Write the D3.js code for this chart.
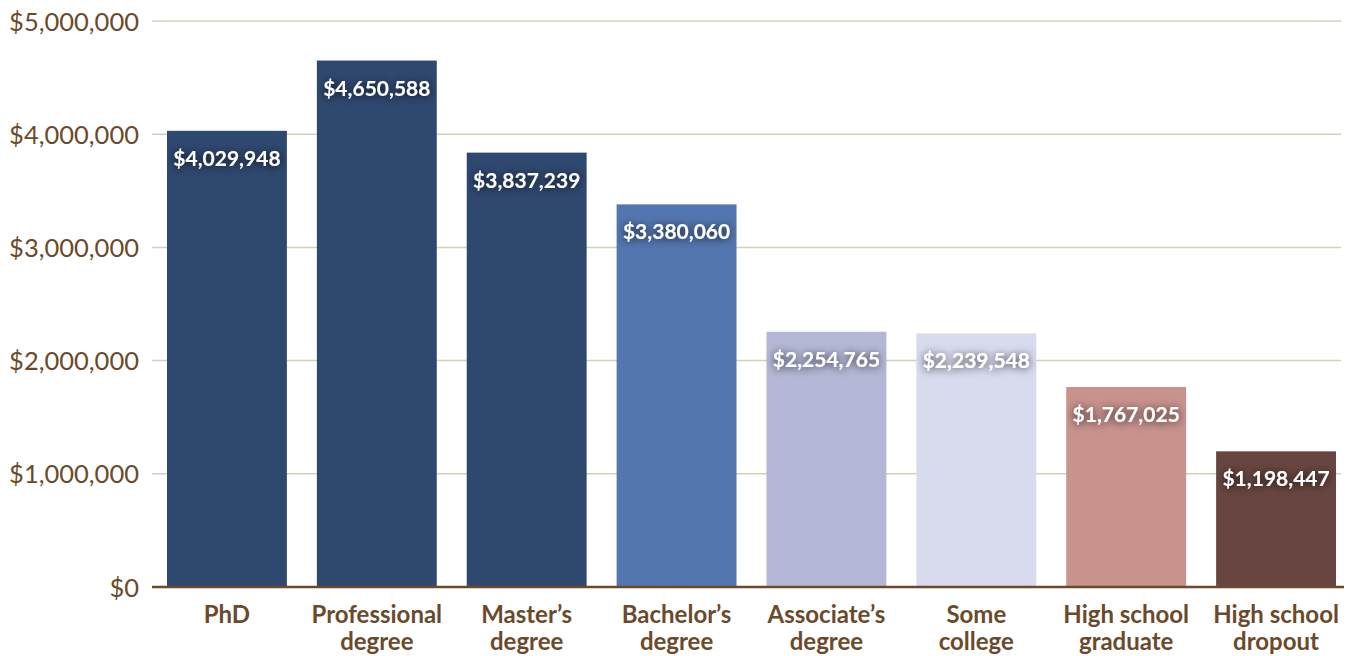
<!DOCTYPE html>
<html>
<head>
<meta charset="utf-8">
<script src="https://cdn.jsdelivr.net/npm/d3@7"></script>
<style>
  body { margin: 0; background: #fff; }
  svg { display: block; }
  .tick text { font-family: Lato, sans-serif; }
</style>
</head>
<body>
<script>
const categories = [["PhD"], ["Professional", "degree"], ["Master\u2019s", "degree"], ["Bachelor\u2019s", "degree"],
                    ["Associate\u2019s", "degree"], ["Some", "college"], ["High school", "graduate"], ["High school", "dropout"]];
const earnings = [4029948, 4650588, 3837239, 3380060, 2254765, 2239548, 1767025, 1198447];
const barColors = ["#2f4870", "#2f4870", "#2f4870", "#5476b0", "#b4b8d6", "#d8dbee", "#c8928d", "#684540"];
const yTicks = [0, 1000000, 2000000, 3000000, 4000000, 5000000];

const W = 1353, H = 656;
const margin = {top: 21, right: 2, bottom: 69, left: 152};
const width = W - margin.left - margin.right,
      height = H - margin.top - margin.bottom;

const svg = d3.select("body").append("svg").attr("width", W).attr("height", H);

const defs = svg.append("defs");
const f = defs.append("filter").attr("id", "glow").attr("x", "-20%").attr("y", "-60%").attr("width", "140%").attr("height", "220%");
f.append("feDropShadow").attr("dx", 0).attr("dy", 1).attr("stdDeviation", 4)
  .attr("flood-color", "#000").attr("flood-opacity", 0.8);

const g = svg.append("g").attr("transform", "translate(" + margin.left + "," + margin.top + ")");

const x = d3.scaleBand()
  .domain(d3.range(categories.length))
  .range([0, width])
  .paddingInner(0.2)
  .paddingOuter(0.1);

const y = d3.scaleLinear()
  .domain([0, 5000000])
  .range([height, 0]);

const fmt = d3.format("$,");

// gridlines
g.append("g")
  .selectAll("line")
  .data(yTicks.slice(1))
  .enter().append("line")
    .attr("x1", 0).attr("x2", width - 10)
    .attr("y1", d => y(d)).attr("y2", d => y(d))
    .attr("stroke", "#d3d0b9").attr("stroke-width", 1.5);

// y axis (labels only)
const yAxis = d3.axisLeft(y).tickValues(yTicks).tickFormat(fmt).tickSize(0).tickPadding(13);
const ya = g.append("g").call(yAxis);
ya.select(".domain").remove();
ya.selectAll("text").attr("fill", "#6b4a2c").style("font-size", "25.5px").attr("dy", "0.36em");

// bars
g.selectAll("rect.bar")
  .data(earnings)
  .enter().append("rect")
    .attr("class", "bar")
    .attr("x", (d, i) => x(i))
    .attr("width", x.bandwidth())
    .attr("y", d => y(d))
    .attr("height", d => height - y(d))
    .attr("fill", (d, i) => barColors[i]);

// baseline
g.append("line")
  .attr("x1", 0).attr("x2", width - 7)
  .attr("y1", height).attr("y2", height)
  .attr("stroke", "#6b4a2c").attr("stroke-width", 2.5);

// value labels
g.selectAll("text.val")
  .data(earnings)
  .enter().append("text")
    .attr("class", "val")
    .attr("x", (d, i) => x(i) + x.bandwidth() / 2)
    .attr("y", d => y(d) + 35)
    .attr("text-anchor", "middle")
    .attr("fill", "#fff")
    .attr("filter", "url(#glow)")
    .style("font-family", "Lato, sans-serif")
    .style("font-weight", "bold")
    .style("font-size", "21px")
    .text(d => fmt(d));

// category labels
const cat = g.selectAll("text.cat")
  .data(categories)
  .enter().append("text")
    .attr("class", "cat")
    .attr("x", (d, i) => x(i) + x.bandwidth() / 2)
    .attr("y", height + 36)
    .attr("text-anchor", "middle")
    .attr("fill", "#6b4a2c")
    .style("font-family", "Lato, sans-serif")
    .style("font-weight", "bold")
    .style("font-size", "24px");

cat.selectAll("tspan")
  .data(d => d)
  .enter().append("tspan")
    .attr("x", function() { return d3.select(this.parentNode).attr("x"); })
    .attr("dy", (d, i) => i ? 27 : 0)
    .text(d => d);
</script>
</body>
</html>
